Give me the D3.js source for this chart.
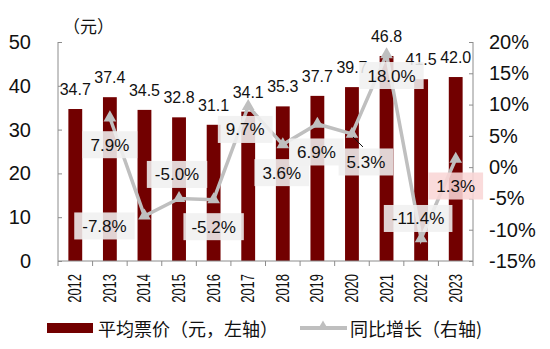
<!DOCTYPE html>
<html><head><meta charset="utf-8">
<script src="https://cdn.jsdelivr.net/npm/d3@7"></script>
<style>body{margin:0;background:#fff}svg{display:block;font-family:"Liberation Sans",Arial,sans-serif}</style>
</head><body><svg id="c" width="550" height="349"></svg>
<script>
const years = ["2012","2013","2014","2015","2016","2017","2018","2019","2020","2021","2022","2023"];
const avgPrice = [34.7,37.4,34.5,32.8,31.1,34.1,35.3,37.7,39.7,46.8,41.5,42.0];
const yoyGrowth = [null,7.9,-7.8,-5.0,-5.2,9.7,3.6,6.9,5.3,18.0,-11.4,1.3];
const leftTicks = [0,10,20,30,40,50];
const rightTicks = [-15,-10,-5,0,5,10,15,20];
// label offsets (dx, dy) relative to each growth point
const labelOffsets = [null,[0,27],[-40,10],[-2,-24],[0,27],[-3,23],[-1,28],[-1,28],[14,28],[5,21],[-3,-20],[0,27]];

const svg = d3.select("#c");
const L = 58, R = 473, T = 42, B = 261;
const x = d3.scaleBand().domain(years).range([L,R]).paddingInner(0.6).paddingOuter(0.3);
const xb = d3.scaleBand().domain(years).range([L,R]);
const yL = d3.scaleLinear().domain([0,50]).range([B,T]);
const yR = d3.scaleLinear().domain([-15,20]).range([B,T]);
const axisColor = "#8c8c8c";
const barColor = "#720000";
const lineColor = "#bfbfbf";

// bars
svg.append("g").selectAll("rect").data(years).join("rect")
  .attr("x", d => x(d)).attr("width", x.bandwidth())
  .attr("y", (d,i) => yL(avgPrice[i])).attr("height", (d,i) => B - yL(avgPrice[i]))
  .attr("fill", barColor);

// bar labels
svg.append("g").selectAll("text").data(years).join("text")
  .attr("x", d => xb(d) + xb.bandwidth()/2)
  .attr("y", (d,i) => yL(avgPrice[i]) - 14)
  .attr("text-anchor","middle").attr("font-size",16).attr("fill","#111")
  .text((d,i) => avgPrice[i].toFixed(1));

// left axis
const gl = svg.append("g").attr("transform",`translate(${L},0)`)
  .call(d3.axisLeft(yL).tickValues(leftTicks).tickSize(-4).tickPadding(27).tickFormat(d3.format("d")));
gl.selectAll("text").attr("font-size",20).attr("fill","#111").attr("font-family","Liberation Sans, Arial");
gl.selectAll("line,path").attr("stroke",axisColor);
gl.select("path").attr("d",`M0,${T}V${B}`);

// right axis
const gr = svg.append("g").attr("transform",`translate(${R},0)`)
  .call(d3.axisRight(yR).tickValues(rightTicks).tickSize(-4).tickPadding(16).tickFormat(d => d + "%"));
gr.selectAll("text").attr("font-size",20).attr("fill","#111").attr("font-family","Liberation Sans, Arial");
gr.selectAll("line,path").attr("stroke",axisColor);
gr.select("path").attr("d",`M0,${T}V${B}`);

// x axis
const gx = svg.append("g").attr("transform",`translate(0,${B})`);
gx.append("line").attr("x1",L).attr("x2",R).attr("stroke",axisColor);
gx.selectAll("line.t").data(years.concat(["end"])).join("line").attr("class","t")
  .attr("x1",(d,i) => L + i*xb.bandwidth()).attr("x2",(d,i) => L + i*xb.bandwidth())
  .attr("y1",0).attr("y2",5).attr("stroke",axisColor);
gx.selectAll("text").data(years).join("text")
  .attr("transform", d => `translate(${xb(d)+xb.bandwidth()/2+6},13) rotate(-90) scale(0.72,1)`)
  .attr("text-anchor","end").attr("font-size",18).attr("fill","#111")
  .text(d => d);

// unit label
svg.append("text").attr("x",63).attr("y",33).attr("font-size",17)
  .attr("font-family","Noto Sans CJK SC").attr("fill","#111").text("（元）");

// growth line
const pts = years.map((d,i) => ({year:d, v:yoyGrowth[i], i})).filter(p => p.v !== null);
const px = p => xb(p.year) + xb.bandwidth()/2;
svg.append("path").datum(pts)
  .attr("d", d3.line().x(px).y(p => yR(p.v)))
  .attr("fill","none").attr("stroke",lineColor).attr("stroke-width",3.5);
const tri = d3.symbol().type(d3.symbolTriangle).size(70);
svg.append("g").selectAll("path").data(pts).join("path")
  .attr("transform", p => `translate(${px(p)},${yR(p.v)})`)
  .attr("d", tri).attr("fill", lineColor);

// leader line for 2020
const p2020 = pts.find(p => p.year === "2020");
svg.append("line").attr("x1",px(p2020)+1).attr("y1",yR(p2020.v)+3)
  .attr("x2",px(p2020)+11).attr("y2",yR(p2020.v)+13).attr("stroke","#111").attr("stroke-width",1);

// growth labels
const lg = svg.append("g");
pts.forEach(p => {
  const off = labelOffsets[p.i];
  const cx = px(p) + off[0], cy = yR(p.v) + off[1];
  const txt = p.v.toFixed(1) + "%";
  const g = lg.append("g");
  const t = g.append("text").attr("x",cx).attr("y",cy+6).attr("text-anchor","middle")
    .attr("font-size",17).attr("fill","#111").text(txt);
  const w = t.node().getComputedTextLength() + 16;
  g.insert("rect","text").attr("x",cx - w/2).attr("y",cy-13.5).attr("width",w).attr("height",27)
    .attr("fill", p.year === "2023" ? "rgba(249,214,214,0.88)" : "rgba(240,240,240,0.88)");
});

// legend
const leg = svg.append("g");
leg.append("rect").attr("x",47).attr("y",323).attr("width",46).attr("height",10).attr("fill",barColor);
leg.append("text").attr("x",98).attr("y",336).attr("font-size",18).attr("font-family","Noto Sans CJK SC")
  .attr("fill","#111").text("平均票价（元，左轴）");
leg.append("line").attr("x1",300).attr("x2",347).attr("y1",328).attr("y2",328)
  .attr("stroke",lineColor).attr("stroke-width",4);
leg.append("path").attr("transform","translate(323,326)").attr("d",d3.symbol().type(d3.symbolTriangle).size(40)).attr("fill",lineColor);
leg.append("text").attr("x",350).attr("y",336).attr("font-size",18).attr("font-family","Noto Sans CJK SC")
  .attr("fill","#111").text("同比增长（右轴)");
</script></body></html>
